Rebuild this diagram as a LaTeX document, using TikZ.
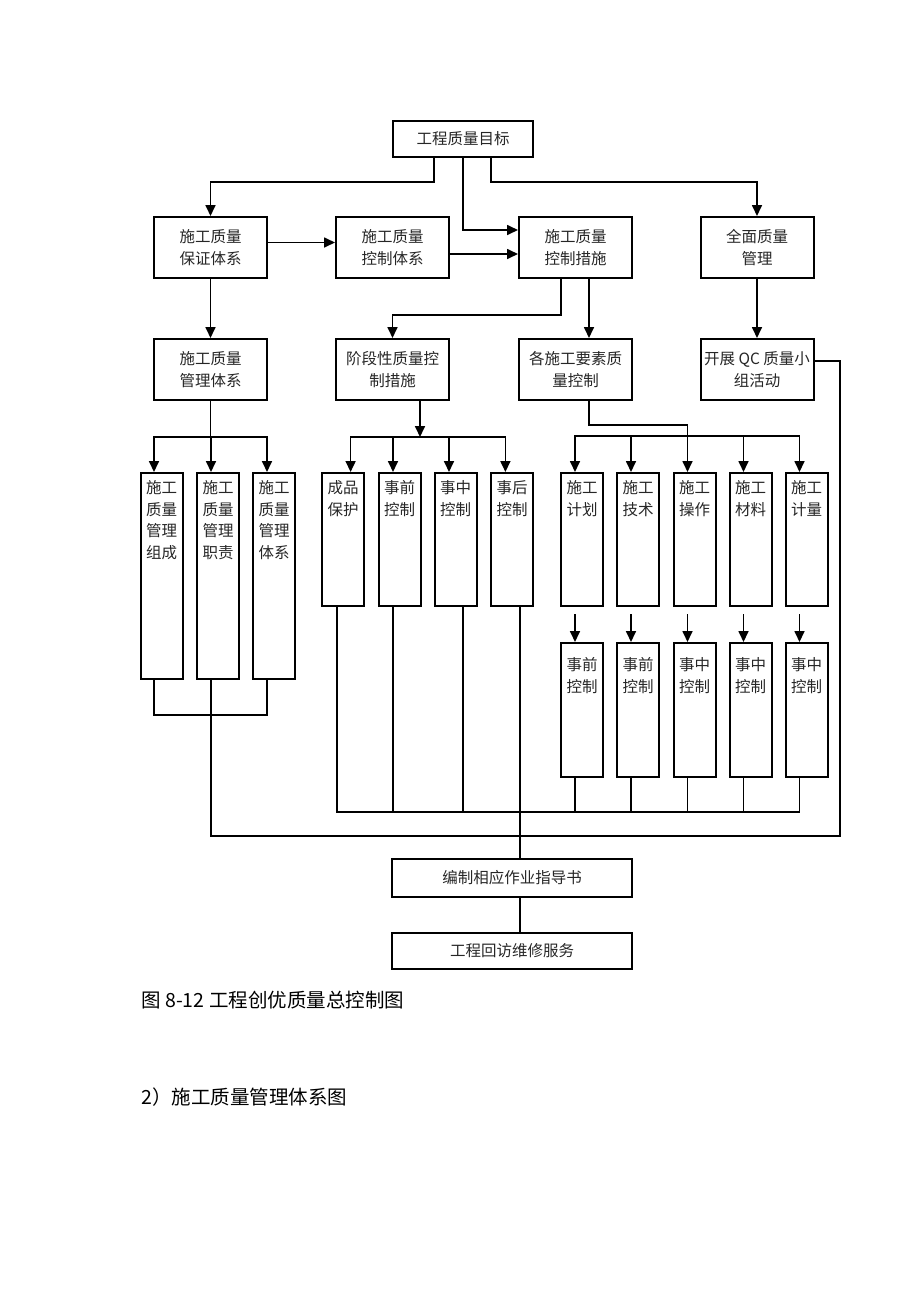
\documentclass[tikz,border=0pt]{standalone}
\usepackage{fontspec}
\setmainfont{Noto Sans CJK SC}
\usetikzlibrary{arrows.meta,positioning}

\begin{document}
\begin{tikzpicture}[
x=1pt, y=-1pt,
box/.style={
  draw,
  line width=2pt,
  minimum width=113pt,
  minimum height=61pt,
  align=center,
  inner sep=2pt,
  font=\fontsize{15.5}{21.5}\selectfont,
  text=black!85
  },
tall/.style={
  draw,
  line width=2pt,
  minimum width=42pt,
  anchor=north
  },
lbl/.style={
  anchor=north,
  yshift=-5pt,
  align=center,
  font=\fontsize{15.5}{21.5}\selectfont,
  text=black!85
  },
wire/.style={
  line width=1.7pt
  },
>={Triangle[length=11pt,width=10pt]}
]
\useasboundingbox (0,0) rectangle (920,1302);

% top
\node[box, minimum width=140pt, minimum height=36pt] (goal) at (463,139) {工程质量目标};

\node[box] (assure) at (210.5,247.5) {施工质量\\保证体系};
\node[box] (ctrlsys) at (392.5,247.5) {施工质量\\控制体系};
\node[box] (measure) at (575.5,247.5) {施工质量\\控制措施};
\node[box] (tqm) at (757,247.5) {全面质量\\管理};

\node[box] (mgmt) at (210.5,369.5) {施工质量\\管理体系};
\node[box] (stage) at (392.5,369.5) {阶段性质量控\\制措施};
\node[box] (factor) at (575.5,369.5) {各施工要素质\\量控制};
\node[box] (qc) at (757,369.5) {开展 QC 质量小\\组活动};

% columns
\foreach \i/\x/\t in {1/161.5/{施工\\质量\\管理\\组成},2/218/{施工\\质量\\管理\\职责},3/274/{施工\\质量\\管理\\体系}}
  \node[tall, minimum height=206pt, label={[lbl]north:\t}] (m\i) at (\x,472) {};

\foreach \i/\x/\t in {1/343/{成品\\保护},2/399.5/{事前\\控制},3/455.5/{事中\\控制},4/512/{事后\\控制}}
  \node[tall, minimum height=133pt, label={[lbl]north:\t}] (s\i) at (\x,472) {};

\foreach \i/\x/\t in {1/582/{施工\\计划},2/638/{施工\\技术},3/694.5/{施工\\操作},4/750.5/{施工\\材料},5/806.5/{施工\\计量}}
  \node[tall, minimum height=133pt, label={[lbl]north:\t}] (f\i) at (\x,472) {};

\foreach \i/\x/\t in {1/582/{事前\\控制},2/638/{事前\\控制},3/694.5/{事中\\控制},4/750.5/{事中\\控制},5/806.5/{事中\\控制}}
  \node[tall, minimum height=134pt, label={[lbl, yshift=-7pt]north:\t}] (p\i) at (\x,642) {};

% bottom
\node[box, minimum width=240pt, minimum height=38pt] (guide) at (512,878) {编制相应作业指导书};
\node[box, minimum width=240pt, minimum height=36pt] (visit) at (512,951) {工程回访维修服务};

\node[anchor=west, font=\fontsize{19.5}{23}\selectfont] (cap) at (138,1000) {图 8-12 工程创优质量总控制图};
\node[anchor=west, font=\fontsize{19.5}{23}\selectfont] (sub) at (138,1097) {2）施工质量管理体系图};

\coordinate (mgbus) at (211,715);
\coordinate (midbus) at (520,811.7);
\coordinate (loopr) at (840,836);

% connectors
\draw[wire,->] ([xshift=-29pt]goal.south) -- ++(0,24) -| (assure.north);
\draw[wire,->] (goal.south) |- ([yshift=17.5pt]measure.west);
\draw[wire,->] ([xshift=28pt]goal.south) -- ++(0,24) -| (tqm.north);
\draw[wire,->] ([yshift=5pt]assure.east) -- ([yshift=5pt]ctrlsys.west);
\draw[wire,->] ([yshift=-6.5pt]ctrlsys.east) -- ([yshift=-6.5pt]measure.west);
\draw[wire,->] ([xshift=-14.5pt]measure.south) -- ++(0,36) -| (stage.north);
\draw[wire,->] ([xshift=13.5pt]measure.south) -- ([xshift=13.5pt]factor.north);
\draw[wire,->] (assure) -- (mgmt);
\draw[wire,->] (tqm) -- (qc);

\foreach \i/\dx in {1/-7.5,2/-7,3/-7}
  \draw[wire,->] (mgmt.south) -- ++(0,36) -| ([xshift=\dx pt]m\i.north);

\draw[wire,->] ([xshift=27.5pt]stage.south) -- ++(0,36);
\foreach \i/\dx in {1/7.6,2/-6.5,3/-6.5,4/-6.6}
  \draw[wire,->] ([xshift=27.5pt]stage.south) ++(0,36) -| ([xshift=\dx pt]s\i.north);

\draw[wire] ([xshift=13.5pt]factor.south) -- ++(0,24) -| ([xshift=-7pt,yshift=36pt]f3.north);
\foreach \i in {1,...,5}
  \draw[wire,->] ([xshift=-7pt,yshift=36pt]f3.north) -| ([xshift=-7pt]f\i.north);

\foreach \i in {1,...,5}
  \draw[wire,->] ([xshift=-7pt,yshift=-7pt]f\i.south) -- ([xshift=-7pt]p\i.north);

\foreach \i/\dx in {1/-7.5,2/-7,3/-7}
  \draw[wire] ([xshift=\dx pt]m\i.south) |- (mgbus);
\draw[wire] (mgbus) |- (loopr) |- ([yshift=8.8pt]qc.east);

\foreach \i/\dx in {1/-6,2/-6.5,3/7.5}
  \draw[wire] ([xshift=\dx pt]s\i.south) |- (midbus);
\foreach \i in {1,...,5}
  \draw[wire] ([xshift=-7pt]p\i.south) |- (midbus);
\draw[wire] ([xshift=8pt]s4.south) -- ([xshift=8pt]guide.north);
\draw[wire] ([xshift=8pt]guide.south) -- ([xshift=8pt]visit.north);

\end{tikzpicture}
\end{document}
